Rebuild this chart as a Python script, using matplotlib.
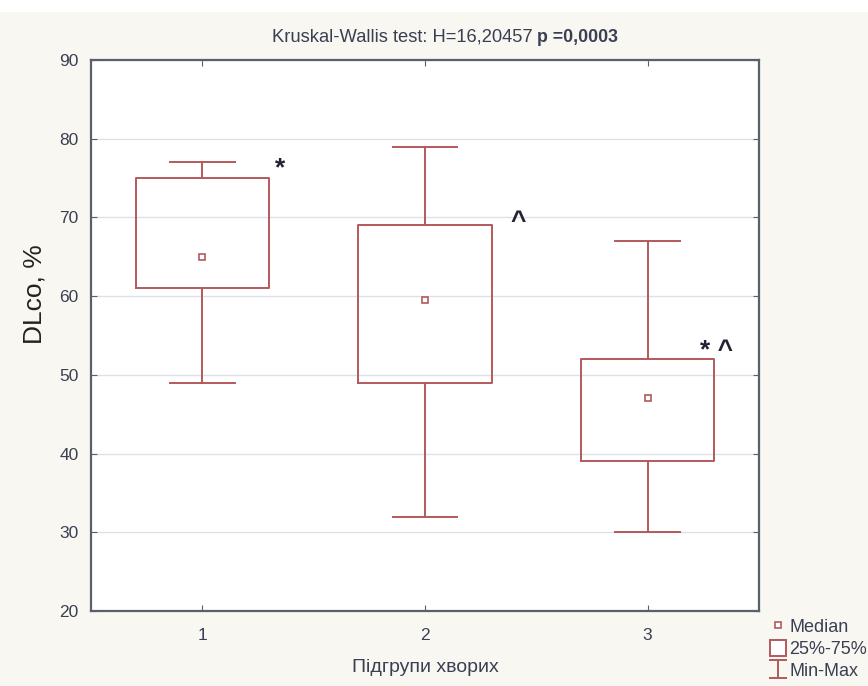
import matplotlib
matplotlib.use('Agg')
import matplotlib.pyplot as plt
from matplotlib.lines import Line2D
from matplotlib.patches import Patch, Rectangle
from matplotlib.path import Path

plt.rcParams['font.family'] = ['Liberation Sans', 'DejaVu Sans']

groups = [1, 2, 3]
mins = [49, 32, 30]
q1 = [61, 49, 39]
medians = [65, 59.5, 47]
q3 = [75, 69, 52]
maxs = [77, 79, 67]
marks = ['*', '^', '* ^']
mark_x = [1.35, 2.42, 3.31]
mark_y = [76.3, 69.4, 53.0]

edge = '#b3595b'
txt = '#3a3f52'

fig = plt.figure(figsize=(8.68, 6.86), dpi=100, facecolor='#f8f7f1')
fig.patches.append(Rectangle((0, 1 - 12 / 686), 1, 12 / 686, transform=fig.transFigure,
                             facecolor='white', edgecolor='none', zorder=0))
ax = fig.add_axes([91 / 868, 1 - 611 / 686, (759 - 91) / 868, (611 - 60) / 686])

stats = []
for i in range(len(groups)):
    stats.append({'whislo': mins[i], 'q1': q1[i], 'med': medians[i],
                  'q3': q3[i], 'whishi': maxs[i]})
ax.bxp(stats, positions=groups, widths=0.6, capwidths=0.29, showfliers=False,
       boxprops=dict(color=edge, lw=1.4), whiskerprops=dict(color=edge, lw=1.4),
       capprops=dict(color=edge, lw=1.4), medianprops=dict(visible=False))
ax.plot(groups, medians, ls='none', marker='s', ms=5, mfc='white', mec=edge, mew=1.2)

for x, y, m in zip(mark_x, mark_y, marks):
    ax.text(x, y, m, ha='center', va='center', fontsize=19, fontweight='bold', color='#222233')

ax.set_xlim(0.5, 3.5)
ax.set_ylim(20, 90)
ax.set_xticks(groups)
ax.set_yticks(range(20, 91, 10))
ax.yaxis.grid(True, color='#dde1e6', lw=1)
ax.set_axisbelow(True)
for s in ax.spines.values():
    s.set_color('#5a6068')
    s.set_linewidth(1.6)
ax.tick_params(direction='in', length=4, top=True, right=True, colors='#5a6068',
               labelcolor=txt, labelsize=12.5)
ax.tick_params(axis='x', pad=12)
ax.tick_params(axis='y', pad=9)

ax.set_ylabel('DLco, %', fontsize=19, color='#222')
ax.yaxis.set_label_coords(-0.067, 0.575)
ax.set_xlabel('Підгрупи хворих', fontsize=14, color=txt, labelpad=12)

# title: regular part + bold p-value
fig.text(533 / 868, 1 - 37 / 686, 'Kruskal-Wallis test: H=16,20457', ha='right', va='center',
         fontsize=13.2, color=txt)
fig.text(537 / 868, 1 - 37 / 686, 'p =0,0003', ha='left', va='center',
         fontsize=12.8, fontweight='bold', color=txt)

bar = Path([(-1, 1), (1, 1), (0, 1), (0, -1), (-1, -1), (1, -1)],
           [Path.MOVETO, Path.LINETO, Path.MOVETO, Path.LINETO, Path.MOVETO, Path.LINETO])
handles = [Line2D([], [], ls='none', marker='s', ms=5, mfc='white', mec=edge, mew=1.2),
           Patch(facecolor='white', edgecolor=edge, lw=1.4),
           Line2D([], [], ls='none', marker=bar, ms=13, mfc='none', mec=edge, mew=1.4)]
fig.legend(handles, ['Median', '25%-75%', 'Min-Max'], loc='upper left',
           bbox_to_anchor=(757 / 868, 1 - 605 / 686), frameon=False, fontsize=13,
           handlelength=0.9, handleheight=1.0, handletextpad=0.2, labelspacing=0.2,
           borderpad=0.2, labelcolor=txt)

fig.savefig('out.png', dpi=100, facecolor=fig.get_facecolor())
